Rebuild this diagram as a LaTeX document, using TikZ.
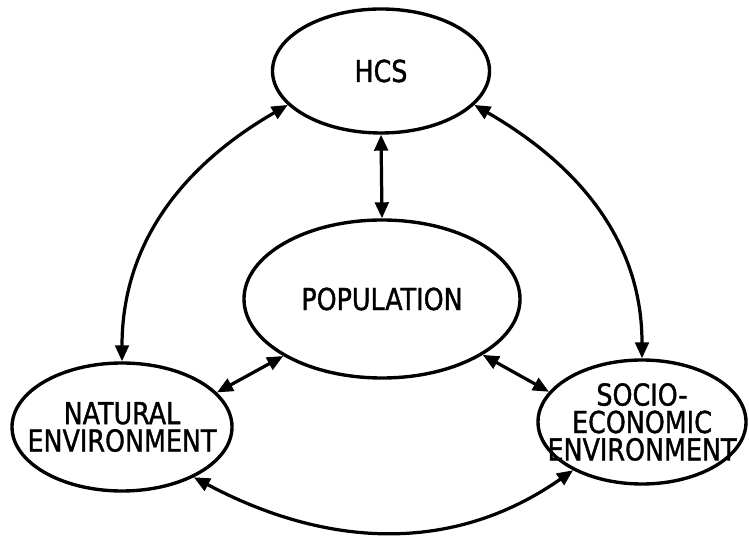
\documentclass[tikz,border=0pt]{standalone}
\usepackage{fontspec}
\setmainfont{DejaVu Sans}[FakeStretch=0.84,FakeBold=1.2]
\usetikzlibrary{arrows.meta,shapes.geometric}
\newcommand{\gross}{\fontsize{21.5}{19.5}\selectfont}
\tikzset{blase/.style={ellipse,draw,line width=2.4pt,inner sep=0pt},
  wort/.style={inner sep=0pt,align=center,font=\gross},
  doppelpfeil/.style={line width=2.3pt,
    {Triangle[length=4mm,width=3.4mm]}-{Triangle[length=4mm,width=3.4mm]}}}

\begin{document}
\begin{tikzpicture}[x=1mm,y=1mm]
\useasboundingbox (0,0) rectangle (187.25,133.75);
\node[blase,minimum width=54.25mm,minimum height=31mm] (hcs) at (95.25,116) {};
\node[blase,minimum width=69mm,minimum height=39.5mm] (pop) at (95.5,59) {};
\node[blase,minimum width=55mm,minimum height=32mm] (nat) at (30.5,27) {};
\node[blase,minimum width=52mm,minimum height=31mm] (soc) at (160.5,28.25) {};
\node[wort] (hcs-t) at (hcs) {HCS};
\node[wort] (pop-t) at (pop) {POPULATION};
\node[wort] (nat-t) at (nat) {NATURAL\\ENVIRONMENT};
\node[wort] (soc-t) at (soc) {SOCIO-\\ECONOMIC\\ENVIRONMENT};
\draw[doppelpfeil] (hcs.south) -- (pop.north);
\draw[doppelpfeil] (hcs.200) to[out=210,in=90] (nat.north);
\draw[doppelpfeil] (hcs.-20) to[out=-30,in=90] (soc.north);
\draw[doppelpfeil] (pop.210) -- (nat.20);
\draw[doppelpfeil] (pop.-29) -- (soc.162);
\draw[doppelpfeil] (nat.-35) to[out=-28,in=-145] (soc.215);
\end{tikzpicture}
\end{document}
